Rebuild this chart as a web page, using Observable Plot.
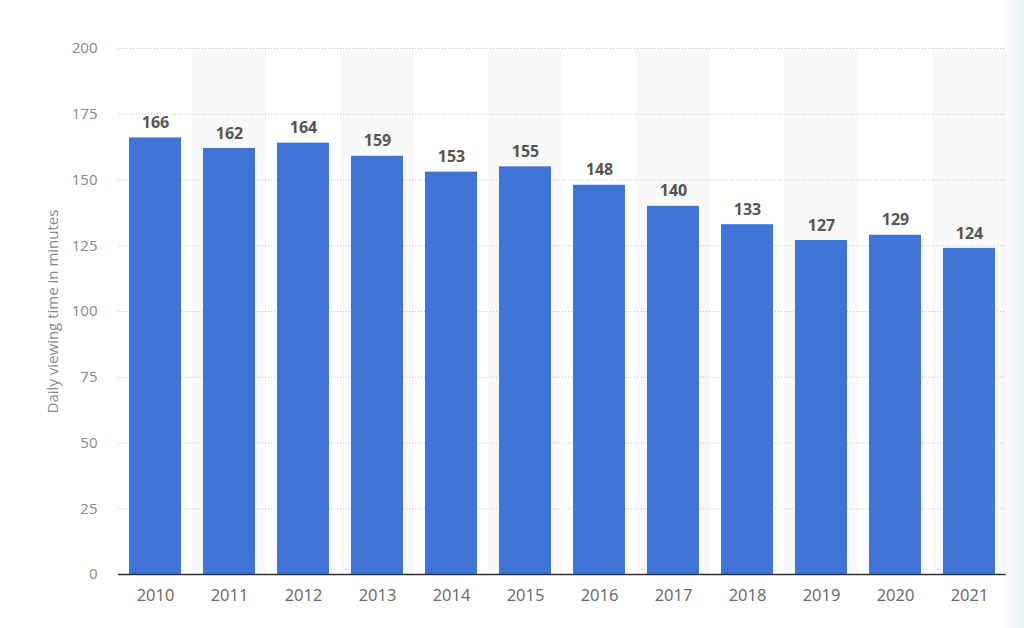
<!DOCTYPE html>
<html><head><meta charset="utf-8">
<script src="https://cdn.jsdelivr.net/npm/d3@7"></script>
<script src="https://cdn.jsdelivr.net/npm/@observablehq/plot@0.6"></script>
<style>
body{margin:0;background:#fff;}
#wrap{position:relative;width:1024px;height:628px;overflow:hidden;}
#edge{position:absolute;right:0;top:0;width:22px;height:628px;background:linear-gradient(to right,rgba(240,242,246,0),rgba(236,239,244,1));}
</style>
</head><body><div id="wrap"><div id="chart"></div><div id="edge"></div></div>
<script>
const years = ["2010","2011","2012","2013","2014","2015","2016","2017","2018","2019","2020","2021"];
const minutes = [166,162,164,159,153,155,148,140,133,127,129,124];
const yTicks = [0,25,50,75,100,125,150,175,200];
const shadedYears = ["2011","2013","2015","2017","2019","2021"];
const yLabel = "Daily viewing time in minutes";

const data = years.map((y,i)=>({year:y, value:minutes[i]}));
const shade = shadedYears.map(y=>({year:y, value:200}));

const chart = Plot.plot({
  width:1024, height:628,
  marginLeft:118, marginRight:18, marginTop:48, marginBottom:54,
  style:{fontFamily:"'Open Sans', sans-serif", background:"transparent"},
  x:{domain:years, padding:0},
  y:{domain:[0,200]},
  marks:[
    Plot.barY(shade,{x:"year", y:"value", fill:"#f9f9f9"}),
    Plot.ruleY(yTicks.filter(d=>d>0),{stroke:"#c4c4c4", strokeDasharray:"1,2", strokeWidth:1}),
    Plot.barY(data,{x:"year", y:"value", fill:"#3f74d8", insetLeft:11, insetRight:11}),
    Plot.ruleY([0],{stroke:"#333", strokeWidth:1.5}),
    Plot.text(data,{x:"year", y:"value", text:d=>String(d.value), dy:-15, fill:"#555", fontWeight:"bold", fontSize:16}),
    Plot.axisY({ticks:yTicks, tickSize:0, tickPadding:21, fontSize:15, color:"#888", label:null}),
    Plot.axisX({tickSize:0, tickPadding:15, fontSize:16.5, color:"#666", label:null}),
    Plot.text([yLabel],{frameAnchor:"left", dx:-65, rotate:-90, fontSize:15, fill:"#888", textAnchor:"middle"})
  ]
});
document.getElementById("chart").appendChild(chart);
</script>
</body></html>
